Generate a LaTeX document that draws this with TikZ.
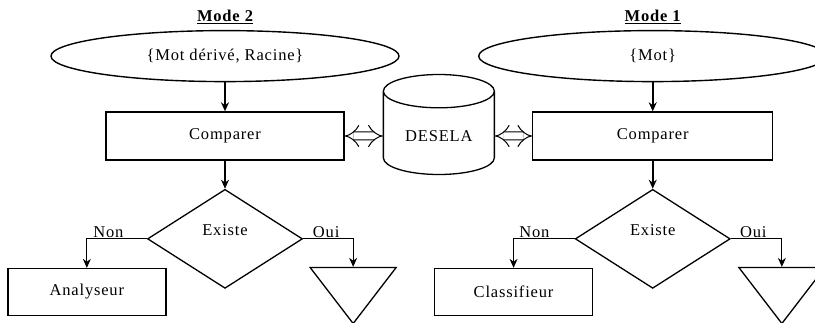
\documentclass[tikz,border=0pt]{standalone}
\usepackage{fontspec}
\setmainfont{Liberation Serif}[LetterSpace=5]
\usetikzlibrary{
	arrows.meta,
	positioning,
	shapes.geometric
}
\tikzset{
	>={Stealth[length=9pt,width=8pt]},
	txt/.style={font=\fontsize{16.5}{19}\selectfont},
	flow/.style={->, line width=2.4pt},
	branch/.style={->, line width=1pt},
	link/.style={{Implies}-{Implies}, double, double distance=7pt, line width=1pt},
	titlenode/.style={font=\fontsize{16.5}{19}\selectfont\bfseries},
	inputnode/.style={ellipse, draw, line width=1.4pt, minimum width=348pt, minimum height=51pt, txt},
	procnode/.style={rectangle, draw, line width=1.4pt, minimum width=238pt, minimum height=48pt, txt},
	testnode/.style={diamond, draw, line width=1.3pt, inner sep=0pt, minimum width=155pt, minimum height=99pt, aspect=1.56},
	outnode/.style={rectangle, draw, line width=1.4pt, minimum width=158pt, minimum height=47pt, txt},
	endnode/.style={isosceles triangle, isosceles triangle stretches, shape border rotate=-90, draw, line width=1.3pt, inner sep=0pt, minimum width=86pt, minimum height=56pt},
	dbnode/.style={cylinder, shape border rotate=90, aspect=0.45, draw, line width=1.3pt, minimum width=111pt, minimum height=100pt, txt},
	branchlabel/.style={txt, above, inner sep=1pt}
}
\begin{document}
\begin{tikzpicture}
	\useasboundingbox (0,0) rectangle (815pt,322pt);

	% mode 2
	\node[procnode] (cmp2) at (225pt,186pt) {Comparer};
	\node[inputnode] (in2) [above=29pt of cmp2] {\{Mot dérivé, Racine\}};
	\node[titlenode] (mode2) [above=3pt of in2] {\underline{Mode 2}};
	\node[testnode, label={[txt, yshift=9pt]center:Existe}] (test2) [below=28pt of cmp2] {};
	\node[outnode] (out2) [below left=29pt and 60pt of test2.west, anchor=north] {Analyseur};
	\node[endnode] (end2) [below right=28pt and 50pt of test2.east, anchor=north] {};

	% base
	\node[dbnode] (db) [right=38pt of cmp2] {DESELA};

	% mode 1
	\node[procnode, minimum width=240pt] (cmp1) [right=37pt of db] {Comparer};
	\node[inputnode] (in1) [above=29pt of cmp1] {\{Mot\}};
	\node[titlenode] (mode1) [above=3pt of in1] {\underline{Mode 1}};
	\node[testnode, label={[txt, yshift=9pt]center:Existe}] (test1) [below=28pt of cmp1] {};
	\node[outnode] (out1) [below left=29pt and 61pt of test1.west, anchor=north] {Classifieur};
	\node[endnode] (end1) [below right=28pt and 51pt of test1.east, anchor=north] {};

	\draw[flow] (in2) -- (cmp2);
	\draw[flow] (cmp2) -- (test2);
	\draw[branch] (test2.west) -| node[branchlabel, pos=0.32] {Non} (out2.north);
	\draw[branch] (test2.east) -| node[branchlabel, pos=0.23] {Oui} (end2.north);

	\draw[flow] (in1) -- (cmp1);
	\draw[flow] (cmp1) -- (test1);
	\draw[branch] (test1.west) -| node[branchlabel, pos=0.33] {Non} (out1.north);
	\draw[branch] (test1.east) -| node[branchlabel, pos=0.22] {Oui} (end1.north);

	\draw[link] (cmp2) -- (db);
	\draw[link] (db) -- (cmp1);
\end{tikzpicture}
\end{document}
